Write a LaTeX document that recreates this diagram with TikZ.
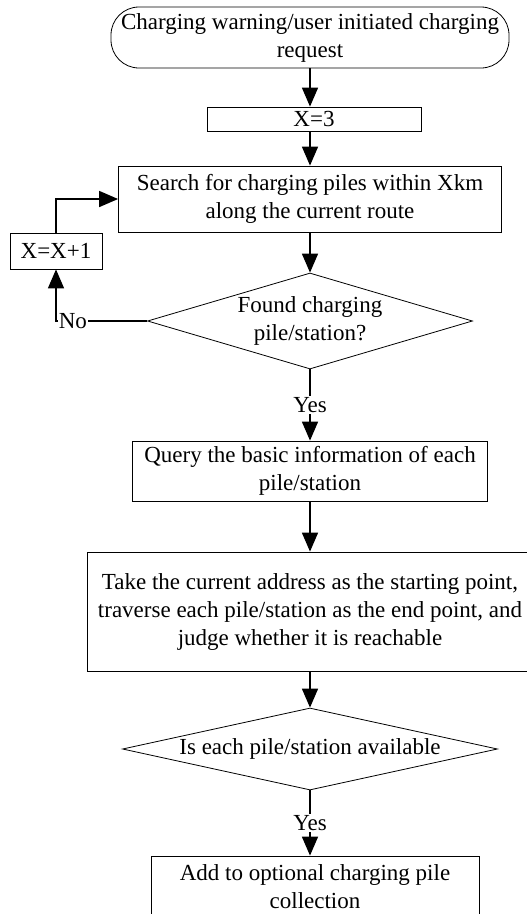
\documentclass[tikz,border=0pt]{standalone}
\usepackage{fontspec}
\setmainfont{Liberation Serif}
\usetikzlibrary{arrows.meta,shapes.geometric}

\begin{document}
\begin{tikzpicture}[x=1pt,y=-1pt,
  font=\fontsize{23}{28}\selectfont,
  box/.style={draw,line width=0.8pt,inner sep=0pt,align=center},
  decision/.style={draw,diamond,line width=0.8pt,inner sep=0pt,align=center},
  flow/.style={line width=1.6pt,-{Triangle[length=19pt,width=16pt]}},
  lbl/.style={fill=white,inner sep=1pt}]
  \clip (0,0) rectangle (527,914);

  % 流程中的各个框
  \node[box,rounded corners=28pt,minimum width=398pt,minimum height=61pt] (start) at (310,37.5)
       {Charging warning/user initiated charging\\request};
  \node[box,minimum width=214pt,minimum height=24pt] (x3) at (314,119) {X=3};
  \node[box,minimum width=383pt,minimum height=66pt] (search) at (310,199)
       {Search for charging piles within Xkm\\along the current route};
  \node[box,minimum width=92pt,minimum height=36pt] (xinc) at (56,251) {X=X+1};
  \node[decision,aspect=3.4,minimum width=325pt,minimum height=96pt] (found) at (310,321)
       {Found charging\\pile/station?};
  \node[box,minimum width=355pt,minimum height=60pt] (query) at (310,471)
       {Query the basic information of each\\pile/station};
  \node[box,minimum width=446pt,minimum height=119pt] (take) at (310,611.5)
       {Take the current address as the starting point,\\traverse each pile/station as the end point, and\\judge whether it is reachable};
  \node[decision,aspect=5,minimum width=375pt,minimum height=82pt] (avail) at (310,749)
       {Is each pile/station available};
  \node[box,minimum width=328pt,minimum height=62pt] (add) at (315,887)
       {Add to optional charging pile\\collection};

  % 连线
  \draw[flow] (start.south) -- (start.south |- x3.north);
  \draw[flow] (search.north |- x3.south) -- (search.north);
  \draw[flow] (search.south) -- (found.north);
  \draw[flow] (found.west) -| node[lbl,pos=0.5,anchor=west,xshift=1pt] {No} (xinc.south);
  \draw[flow] (xinc.north) |- (search.west);
  \draw[flow] (found.south) -- node[lbl] {Yes} (query.north);
  \draw[flow] (query.south) -- (take.north);
  \draw[flow] (take.south) -- (avail.north);
  \draw[flow] (avail.south) -- node[lbl] {Yes} (avail.south |- add.north);
\end{tikzpicture}
\end{document}
